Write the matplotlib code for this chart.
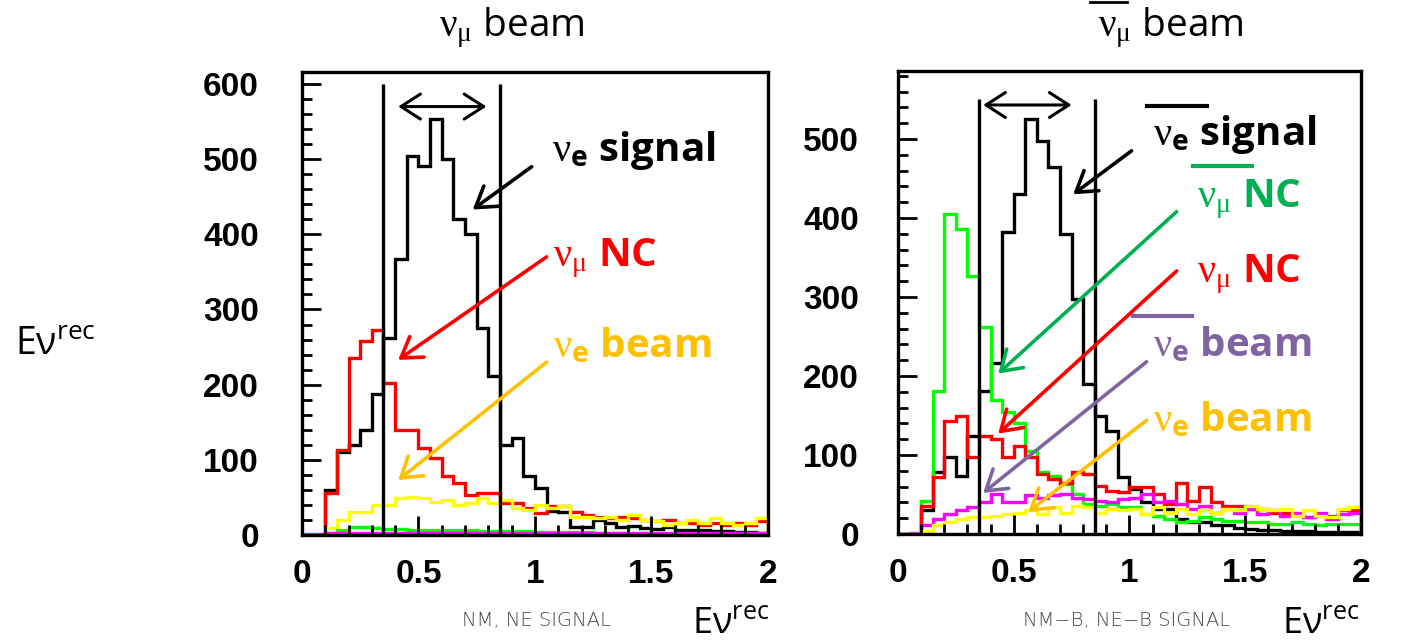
import numpy as np
import matplotlib
matplotlib.use('Agg')
import matplotlib.pyplot as plt
from matplotlib.lines import Line2D

plt.rcParams['mathtext.fontset'] = 'custom'
plt.rcParams['mathtext.rm'] = 'Liberation Serif'
plt.rcParams['mathtext.it'] = 'Liberation Serif:italic'
plt.rcParams['mathtext.bf'] = 'Open Sans:bold'
plt.rcParams['mathtext.sf'] = 'Open Sans'

# 40 bins of 0.05 between 0 and 2
edges = np.linspace(0, 2, 41)

# nu_mu beam (left)
black_L = [0, 0, 60, 111, 120, 140, 187, 262, 367, 504, 491, 553, 500, 420, 400, 276, 211, 120, 129, 78,
           62, 32, 30, 11, 11, 20, 16, 11, 12, 9, 8, 10, 7, 6, 7, 5, 5, 4, 4, 3]
red_L = [0, 0, 56, 113, 236, 258, 273, 202, 140, 140, 116, 102, 78, 69, 53, 56, 56, 42, 42, 36,
         29, 38, 38, 31, 27, 24, 22, 24, 22, 20, 18, 20, 16, 16, 13, 16, 13, 16, 13, 18]
yellow_L = [0, 0, 9, 20, 31, 31, 40, 40, 49, 50, 49, 44, 47, 40, 42, 49, 42, 47, 36, 33,
            40, 36, 38, 24, 24, 22, 24, 20, 27, 20, 18, 13, 16, 20, 16, 22, 16, 13, 16, 22]
green_L = [0, 0, 3, 7, 11, 10, 9, 8, 8, 7, 7, 7, 6, 6, 6, 5, 5, 5, 5, 5,
           4, 4, 4, 4, 4, 3, 3, 3, 3, 3, 3, 3, 2, 2, 2, 2, 2, 2, 2, 2]
magenta_L = [1, 1, 2, 2, 2, 2, 2, 2, 2, 2, 2, 2, 2, 2, 2, 2, 2, 2, 2, 2,
             2, 2, 2, 2, 3, 3, 3, 3, 3, 3, 3, 3, 3, 3, 3, 3, 3, 3, 3, 3]

# anti nu_mu beam (right)
black_R = [0, 0, 30, 78, 97, 74, 124, 181, 217, 382, 430, 525, 498, 464, 380, 297, 190, 150, 131, 72,
           57, 40, 32, 32, 19, 15, 15, 11, 11, 8, 6, 5, 5, 4, 4, 4, 3, 3, 3, 3]
green_R = [0, 0, 42, 181, 405, 386, 327, 262, 169, 154, 141, 105, 78, 74, 63, 51, 38, 36, 38, 34,
           34, 25, 23, 19, 15, 17, 21, 19, 17, 17, 15, 15, 13, 13, 15, 13, 11, 13, 13, 13]
red_R = [0, 0, 36, 72, 143, 150, 97, 124, 120, 97, 112, 97, 76, 70, 65, 78, 76, 61, 55, 53,
         59, 59, 51, 38, 65, 42, 59, 40, 36, 36, 32, 32, 27, 27, 25, 21, 23, 23, 30, 30]
magenta_R = [0, 1, 11, 19, 25, 30, 34, 40, 51, 40, 40, 49, 46, 49, 51, 46, 44, 42, 40, 44,
             46, 51, 40, 42, 38, 32, 36, 27, 32, 27, 32, 25, 30, 23, 27, 21, 27, 19, 25, 27]
yellow_R = [0, 0, 4, 11, 15, 19, 21, 21, 23, 25, 27, 30, 25, 34, 27, 36, 34, 27, 32, 30,
            32, 25, 34, 27, 32, 25, 30, 27, 32, 30, 36, 32, 30, 32, 23, 30, 23, 21, 32, 34]

xticks = [0, 0.5, 1, 1.5, 2]
xtick_labels = ['0', '0.5', '1', '1.5', '2']
yticks_L = [0, 100, 200, 300, 400, 500, 600]
yticks_R = [0, 100, 200, 300, 400, 500]
cut_lo, cut_hi = 0.35, 0.85

fig = plt.figure(figsize=(14.07, 6.41), dpi=100)
axL = fig.add_axes([0.2146, 0.1654, 0.3312, 0.7223])
axR = fig.add_axes([0.6382, 0.1669, 0.3291, 0.7223])


def setup(ax, yticks, ytop, ypad):
    ax.set_xlim(0, 2)
    ax.set_ylim(0, ytop)
    ax.set_xticks(xticks, labels=xtick_labels, fontfamily='Liberation Sans', fontweight='bold', fontsize=24)
    ax.set_yticks(yticks, labels=[str(v) for v in yticks], fontfamily='Liberation Sans', fontweight='bold', fontsize=24)
    ax.set_xticks(np.arange(0, 2.001, 0.1), minor=True)
    ax.set_yticks(np.arange(0, ytop, 20), minor=True)
    ax.tick_params(which='major', direction='in', length=14, width=2)
    ax.tick_params(which='minor', direction='in', length=7, width=2)
    ax.tick_params(axis='x', pad=17)
    ax.tick_params(axis='y', pad=ypad)
    for s in ax.spines.values():
        s.set_linewidth(2.4)


setup(axL, yticks_L, 616, 31)
setup(axR, yticks_R, 586, 28)

lw = 2.4
axL.stairs(black_L, edges, color='black', lw=lw)
axL.stairs(red_L, edges, color='#ff0000', lw=lw)
axL.stairs(yellow_L, edges, color='#ffff00', lw=lw)
axL.stairs(green_L, edges, color='#00ff00', lw=lw)
axL.stairs(magenta_L, edges, color='#ff00ff', lw=lw)

axR.stairs(black_R, edges, color='black', lw=lw)
axR.stairs(green_R, edges, color='#00ff00', lw=lw)
axR.stairs(red_R, edges, color='#ff0000', lw=lw)
axR.stairs(magenta_R, edges, color='#ff00ff', lw=lw)
axR.stairs(yellow_R, edges, color='#ffff00', lw=lw)

# selection window
axL.vlines([cut_lo, cut_hi], 0, 600, color='black', lw=2.4)
axR.vlines([cut_lo, cut_hi], 0, 551, color='black', lw=2.4)
dbl = dict(arrowstyle='<->,head_length=0.7,head_width=0.45', color='black', lw=2.2, mutation_scale=20, shrinkA=0, shrinkB=0)
axL.annotate('', xy=(0.413, 570), xytext=(0.792, 570), arrowprops=dbl)
axR.annotate('', xy=(0.368, 543), xytext=(0.750, 543), arrowprops=dbl)

GOLD = '#ffc000'
PURPLE = '#8064a2'
DKGREEN = '#00b050'


def arrow(ax, head, tail, color):
    ax.annotate('', xy=head, xytext=tail,
                arrowprops=dict(arrowstyle='->,head_length=0.7,head_width=0.45', color=color, lw=2.6,
                                mutation_scale=20, shrinkA=0, shrinkB=0))


def label(ax, x, y, s, color):
    ax.text(x, y, s, color=color, fontsize=29, fontfamily='Open Sans', fontweight='bold',
            ha='left', va='baseline')


sig = r'$\mathrm{\nu}_\mathbf{e}$ signal'
nc = r'$\mathrm{\nu_\mu}$ NC'
ebeam = r'$\mathrm{\nu}_\mathbf{e}$ beam'

label(axL, 1.072, 498, sig, 'black')
label(axL, 1.079, 357, nc, '#ff0000')
label(axL, 1.079, 237, ebeam, GOLD)
arrow(axL, (0.733, 433), (0.986, 490), 'black')
arrow(axL, (0.413, 233), (1.050, 370), '#ff0000')
arrow(axL, (0.413, 73), (1.050, 230), GOLD)

label(axR, 1.10, 492, sig, 'black')
label(axR, 1.29, 414, nc, DKGREEN)
label(axR, 1.29, 319, nc, '#ff0000')
label(axR, 1.103, 225, ebeam, PURPLE)
label(axR, 1.103, 130, ebeam, GOLD)
arrow(axR, (0.757, 430), (1.009, 485), 'black')
arrow(axR, (0.433, 203), (1.204, 408), DKGREEN)
arrow(axR, (0.433, 127), (1.204, 333), '#ff0000')
arrow(axR, (0.368, 52), (1.074, 218), PURPLE)
arrow(axR, (0.563, 28), (1.074, 144), GOLD)

# anti-neutrino bars
axR.plot([1.074, 1.333], [542, 542], color='black', lw=3, clip_on=False)
axR.plot([1.273, 1.528], [466, 466], color=DKGREEN, lw=3, clip_on=False)
axR.plot([1.014, 1.269], [276, 276], color=PURPLE, lw=3, clip_on=False)

# titles
fig.text(512 / 1407, 1 - 28 / 641, r'$\mathrm{\nu_\mu}$ beam', fontsize=28, fontfamily='Open Sans',
         ha='center', va='center')
fig.text(1171 / 1407, 1 - 28 / 641, r'$\mathrm{\nu_\mu}$ beam', fontsize=28, fontfamily='Open Sans',
         ha='center', va='center')
fig.add_artist(Line2D([1090 / 1407, 1127 / 1407], [1 - 2 / 641, 1 - 2 / 641], color='black', lw=2))

# axis labels
erec = r'$\mathsf{E\nu^{rec}}$'
fig.text(15 / 1407, 1 - 355 / 641, erec, fontsize=27, ha='left', va='baseline')
fig.text(692 / 1407, 8 / 641, erec, fontsize=26, ha='left', va='baseline')
fig.text(1282 / 1407, 8 / 641, erec, fontsize=26, ha='left', va='baseline')

fig.text(536 / 1407, 1 - 620 / 641, 'NM, NE SIGNAL', fontsize=14, fontfamily='DejaVu Sans',
         fontweight='light', color='#444444', ha='center', va='center')
fig.text(1127 / 1407, 1 - 620 / 641, 'NM\u2212B, NE\u2212B SIGNAL', fontsize=14, fontfamily='DejaVu Sans',
         fontweight='light', color='#444444', ha='center', va='center')

fig.savefig('out.png', dpi=100)
